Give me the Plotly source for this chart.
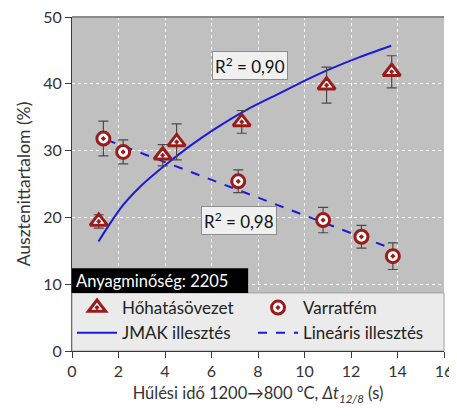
import plotly.graph_objects as go

# --- data ---
haz_x = [1.15, 3.9, 4.5, 7.3, 10.95, 13.75]
haz_y = [19.4, 29.3, 31.3, 34.3, 39.8, 41.8]
haz_err = [1.0, 1.6, 2.7, 1.7, 2.7, 2.4]

weld_x = [1.35, 2.2, 7.15, 10.8, 12.45, 13.8]
weld_y = [31.8, 29.8, 25.4, 19.6, 17.1, 14.2]
weld_err = [2.6, 1.8, 1.7, 1.9, 1.7, 2.0]

jmak_x = [1.14, 1.64, 2.21, 2.93, 3.65, 4.22, 5.08, 6.08, 7.51, 8.94, 10.15, 11.09, 12.37, 13.73]
jmak_y = [16.4, 19.1, 21.9, 24.6, 26.8, 28.4, 30.7, 33.1, 36.1, 38.6, 40.7, 42.2, 44.0, 45.7]

lin_x = [1.5, 13.7]
lin_y = [31.6, 15.4]

x_ticks = [0, 2, 4, 6, 8, 10, 12, 14, 16]
y_ticks = [0, 10, 20, 30, 40, 50]

RED = "#9b1b1b"
BLUE = "#1a1adb"
FONT = "Lato"

fig = go.Figure()

fig.add_trace(go.Scatter(
    x=jmak_x, y=jmak_y, mode="lines", name="JMAK illesztés", legendrank=3,
    line=dict(color=BLUE, width=2, shape="spline", smoothing=0.8),
))
fig.add_trace(go.Scatter(
    x=lin_x, y=lin_y, mode="lines", name="Lineáris illesztés", legendrank=4,
    line=dict(color=BLUE, width=2, dash="dash"),
))
fig.add_trace(go.Scatter(
    x=haz_x, y=haz_y, mode="markers", name="Hőhatásövezet", legendrank=1,
    error_y=dict(type="data", array=haz_err, color="#4a4a4a", thickness=1.2, width=5),
    marker=dict(symbol="triangle-up-dot", size=15, color="white",
                line=dict(color=RED, width=3)),
))
fig.add_trace(go.Scatter(
    x=weld_x, y=weld_y, mode="markers", name="Varratfém", legendrank=2,
    error_y=dict(type="data", array=weld_err, color="#4a4a4a", thickness=1.2, width=5),
    marker=dict(symbol="circle-dot", size=13, color="white",
                line=dict(color=RED, width=3)),
))

axis_common = dict(
    showline=True, linecolor="#3a3a3a", linewidth=1.2,
    ticks="outside", ticklen=6, tickcolor="#3a3a3a", tickwidth=1.2,
    tickfont=dict(family=FONT, size=16, color="#333333"),
    gridcolor="rgba(255,255,255,0.9)", griddash="dot", gridwidth=1,
    zeroline=False, mirror=False, automargin=False,
    ticklabeloverflow="allow",
)

fig.update_layout(
    width=457, height=419,
    margin=dict(l=64, r=21, t=9, b=76),
    paper_bgcolor="white", plot_bgcolor="#c0c0c0",
    font=dict(family=FONT, size=16, color="#333333"),
    xaxis=dict(range=[0, 16], tickvals=x_ticks, **axis_common,
               title=dict(text="Hűlési idő 1200→800 °C, <i>Δt</i><sub><i>12/8</i></sub> (s)",
                          font=dict(family=FONT, size=16.5, color="#333333"), standoff=8)),
    yaxis=dict(range=[0, 50], tickvals=y_ticks, **axis_common,
               title=dict(text="Ausztenittartalom (%)",
                          font=dict(family=FONT, size=17.5, color="#333333"), standoff=8)),
    showlegend=True,
    legend=dict(orientation="h", x=0.0, y=0.0, xanchor="left", yanchor="bottom",
                bgcolor="rgba(0,0,0,0)", borderwidth=0,
                entrywidth=126, entrywidthmode="pixels",
                font=dict(family=FONT, size=17, color="#222222"),
                traceorder="normal", itemwidth=40, tracegroupgap=0),
    shapes=[
        dict(type="rect", xref="paper", yref="y", x0=0, x1=1, y0=0, y1=8.7,
             fillcolor="#ebebeb", line=dict(color="#a0a0a0", width=1), layer="above"),
        dict(type="rect", xref="paper", yref="y", x0=0, x1=0.4735, y0=8.7, y1=12.4,
             fillcolor="black", line=dict(width=0), layer="above"),
        dict(type="line", xref="paper", yref="paper", x0=0, x1=1, y0=1, y1=1,
             line=dict(color="#8a8a8a", width=2), layer="above"),
    ],
    annotations=[
        dict(text="Anyagminőség: 2205", xref="paper", yref="y", x=0.005, y=10.55,
             xanchor="left", yanchor="middle", showarrow=False,
             font=dict(family=FONT, size=16.5, color="white")),
        dict(text="R<sup>2</sup> = 0,90", xref="x", yref="y", x=7.65, y=42.7,
             showarrow=False, bgcolor="#f0f0f0", bordercolor="#8c8c8c", borderwidth=1,
             borderpad=2, font=dict(family=FONT, size=17, color="#111111")),
        dict(text="R<sup>2</sup> = 0,98", xref="x", yref="y", x=7.2, y=19.5,
             showarrow=False, bgcolor="#f0f0f0", bordercolor="#8c8c8c", borderwidth=1,
             borderpad=2, font=dict(family=FONT, size=17, color="#111111")),
    ],
)

fig.write_html("out.html")
